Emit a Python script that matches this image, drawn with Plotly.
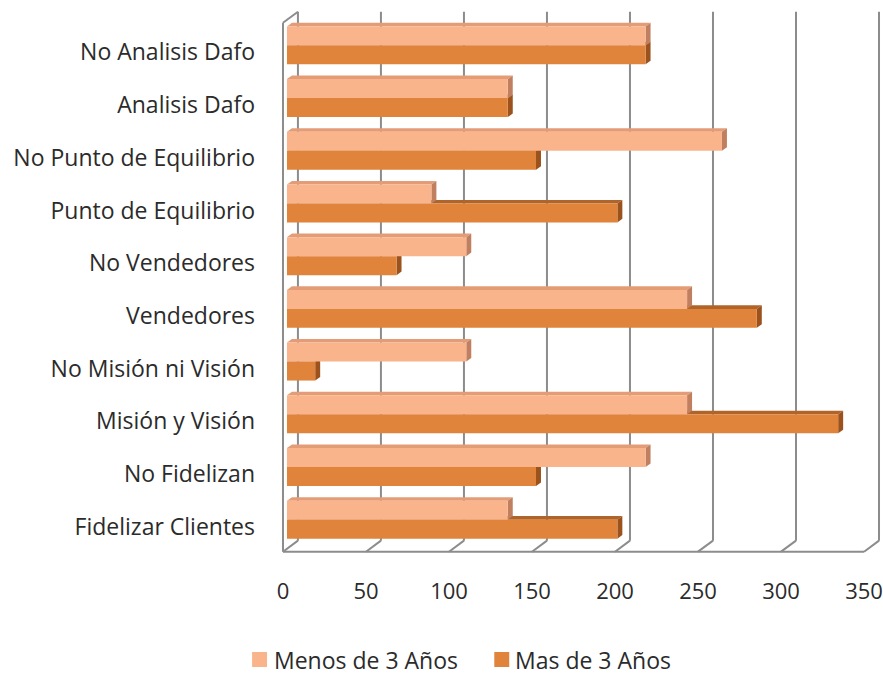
import plotly.graph_objects as go

# ---- data -------------------------------------------------------------
categories = [
    "Fidelizar Clientes",
    "No Fidelizan",
    "Misión y Visión",
    "No Misión ni Visión",
    "Vendedores",
    "No Vendedores",
    "Punto de Equilibrio",
    "No Punto de Equilibrio",
    "Analisis Dafo",
    "No Analisis Dafo",
]
menos_3_anos = [133, 216, 241, 108, 241, 108, 87, 262, 133, 216]
mas_3_anos = [199, 150, 332, 17, 283, 66, 199, 150, 133, 216]
x_ticks = [0, 50, 100, 150, 200, 250, 300, 350]
series_names = ["Menos de 3 Años", "Mas de 3 Años"]

# ---- style ------------------------------------------------------------
FONT = "Open Sans"
LABEL_SIZE = 23
TICK_SIZE = 22
TEXT = "#2b2b2b"
GRID = "#8c8c8c"
LIGHT = dict(front="#f9b48c", top="#e39c76", side="#c08060")
DARK = dict(front="#e0843c", top="#b0642a", side="#9c521c")

# pseudo-3D projection (depth offsets in data units)
WALL_DX, WALL_DY = 9.0, 0.209      # back wall vs. front edge
BAR_X0 = 2.4                       # bar front face sits slightly behind the front edge
BAR_DX, BAR_DY = 3.0, 0.068        # bar extrusion
BAR_W = 0.36
LIGHT_OFF, DARK_OFF = 0.133, -0.227

Y_FRONT = -0.474
Y_BACK = Y_FRONT + WALL_DY
Y_TOP = 9.77
X_MAX = x_ticks[-1]

W, H = 883, 679
ML, MR, MT, MB = 280, 0, 5, 125
PW, PH = W - ML - MR, H - MT - MB


def px(xp, yp):
    """pixel position -> paper coordinates"""
    return (xp - ML) / PW, (H - MB - yp) / PH


fig = go.Figure()
shapes = []


def line(x0, y0, x1, y1):
    shapes.append(dict(type="line", xref="x", yref="y", x0=x0, y0=y0, x1=x1, y1=y1,
                       line=dict(color=GRID, width=2), layer="below"))


def poly(pts, color):
    d = "M " + " L ".join(f"{x},{y}" for x, y in pts) + " Z"
    shapes.append(dict(type="path", xref="x", yref="y", path=d, fillcolor=color,
                       line=dict(width=0), layer="below"))


# walls and floor
line(0, Y_FRONT, 0, Y_TOP - WALL_DY)
line(0, Y_TOP - WALL_DY, WALL_DX, Y_TOP)
line(0, Y_FRONT, X_MAX, Y_FRONT)
for t in x_ticks:
    line(t + WALL_DX, Y_BACK, t + WALL_DX, Y_TOP)
    line(t, Y_FRONT, t + WALL_DX, Y_BACK)

# bar top and side faces, derived from the values
for vals, off, col in ((mas_3_anos, DARK_OFF, DARK), (menos_3_anos, LIGHT_OFF, LIGHT)):
    for i, v in enumerate(vals):
        x1 = BAR_X0 + v
        yb, yt = i + off, i + off + BAR_W
        poly([(BAR_X0, yt), (x1, yt), (x1 + BAR_DX, yt + BAR_DY), (BAR_X0 + BAR_DX, yt + BAR_DY)], col["top"])
        poly([(x1, yb), (x1 + BAR_DX, yb + BAR_DY), (x1 + BAR_DX, yt + BAR_DY), (x1, yt)], col["side"])

idx = list(range(len(categories)))
fig.add_trace(go.Bar(
    name=series_names[1], y=idx, x=mas_3_anos, base=BAR_X0, orientation="h",
    offset=DARK_OFF, width=BAR_W, marker=dict(color=DARK["front"], line=dict(width=0)),
    showlegend=False,
))
fig.add_trace(go.Bar(
    name=series_names[0], y=idx, x=menos_3_anos, base=BAR_X0, orientation="h",
    offset=LIGHT_OFF, width=BAR_W, marker=dict(color=LIGHT["front"], line=dict(width=0)),
    showlegend=False,
))

# legend drawn as swatches + labels
annotations = []
legend_items = [
    (series_names[0], LIGHT["front"], 252, 272),
    (series_names[1], DARK["front"], 495, 514),
]
for name, color, sx, tx in legend_items:
    x0, y0 = px(sx, 667)
    x1, y1 = px(sx + 15, 652)
    shapes.append(dict(type="rect", xref="paper", yref="paper", x0=x0, y0=y0, x1=x1, y1=y1,
                       fillcolor=color, line=dict(width=0)))
    ax, ay = px(tx, 660)
    annotations.append(dict(xref="paper", yref="paper", x=ax, y=ay, text=name, showarrow=False,
                            xanchor="left", yanchor="middle",
                            font=dict(family=FONT, size=LABEL_SIZE, color=TEXT)))

fig.update_layout(
    width=W, height=H,
    margin=dict(l=ML, r=MR, t=MT, b=MB),
    paper_bgcolor="white", plot_bgcolor="white",
    barmode="overlay",
    shapes=shapes, annotations=annotations,
    font=dict(family=FONT, size=TICK_SIZE, color=TEXT),
    xaxis=dict(range=[-1.8, 360.2], tickvals=x_ticks, showgrid=False, zeroline=False,
               showline=False, ticks="", ticklabelstandoff=22, ticklabeloverflow="allow",
               tickfont=dict(size=TICK_SIZE), fixedrange=True),
    yaxis=dict(range=[-0.518, 9.899], tickvals=idx, ticktext=categories, showgrid=False,
               zeroline=False, showline=False, ticks="", ticklabelstandoff=24,
               tickfont=dict(size=LABEL_SIZE), fixedrange=True),
)

fig.write_html("out.html", config={"displayModeBar": False})
